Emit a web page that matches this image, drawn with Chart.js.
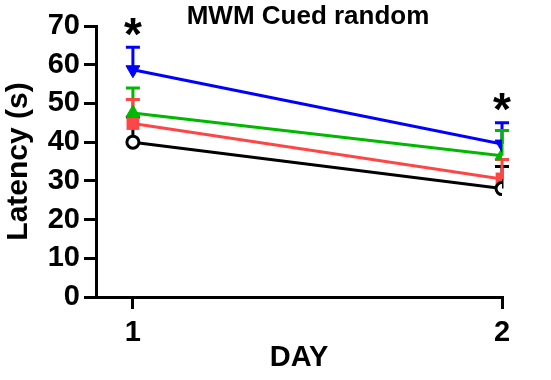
<!DOCTYPE html>
<html>
<head>
<meta charset="utf-8">
<script src="https://cdn.jsdelivr.net/npm/chart.js@4"></script>
<style>
  html, body { margin: 0; padding: 0; background: #fff; }
  canvas { display: block; }
</style>
</head>
<body>
<canvas id="chart" width="551" height="380"></canvas>
<script>
// values
const days = [1, 2];
const yTicks = [0, 10, 20, 30, 40, 50, 60, 70];
const blueMean = [58.7, 39.5];
const blueErr = [64.5, 45.0];
const greenMean = [47.5, 36.5];
const greenErr = [54.0, 43.0];
const redMean = [44.8, 30.5];
const redErr = [51.0, 35.5];
const blackMean = [40.0, 28.0];
const blackErr = [46.5, 33.7];
const starDays = [1, 2];
const starValues = [69.6, 50.0];

const FONT = '"Liberation Sans", Arial, sans-serif';

function pts(means) {
  return days.map((d, i) => ({ x: d, y: means[i] }));
}

const errorBars = {
  id: 'errorBars',
  beforeDatasetsDraw(chart) {
    const ctx = chart.ctx;
    const xs = chart.scales.x;
    const ys = chart.scales.y;
    chart.data.datasets.forEach((ds) => {
      ctx.save();
      ctx.strokeStyle = ds.borderColor;
      ctx.lineWidth = 3;
      ds.errTop.forEach((top, i) => {
        const x = xs.getPixelForValue(days[i]);
        const y0 = ys.getPixelForValue(ds.data[i].y);
        const y1 = ys.getPixelForValue(top);
        ctx.beginPath();
        ctx.moveTo(x, y0);
        ctx.lineTo(x, y1);
        ctx.moveTo(x - 7, y1);
        ctx.lineTo(x + 7, y1);
        ctx.stroke();
      });
      ctx.restore();
    });
  },
  afterDraw(chart) {
    const ctx = chart.ctx;
    const xs = chart.scales.x;
    const ys = chart.scales.y;
    ctx.save();
    ctx.fillStyle = '#000';
    ctx.textAlign = 'center';
    ctx.textBaseline = 'middle';
    ctx.font = 'bold 26px ' + FONT;
    ctx.fillText('MWM Cued random', 308, 17);
    // significance stars
    ctx.font = 'bold 46px ' + FONT;
    ctx.textBaseline = 'alphabetic';
    starDays.forEach((d, i) => {
      ctx.fillText('*', xs.getPixelForValue(d), ys.getPixelForValue(starValues[i]) + 22);
    });
    ctx.restore();
  }
};

new Chart(document.getElementById('chart').getContext('2d'), {
  type: 'line',
  data: {
    datasets: [
      {
        label: 'Black', data: pts(blackMean), errTop: blackErr, order: 0,
        borderColor: '#000000', backgroundColor: '#ffffff',
        pointStyle: 'circle', pointRadius: 6, pointBorderWidth: 3
      },
      {
        label: 'Blue', data: pts(blueMean), errTop: blueErr, order: 1,
        borderColor: '#0000ff', backgroundColor: '#0000ff',
        pointStyle: 'triangle', pointRotation: 180, pointRadius: 8, pointBorderWidth: 1
      },
      {
        label: 'Green', data: pts(greenMean), errTop: greenErr, order: 2,
        borderColor: '#00b800', backgroundColor: '#00b800',
        pointStyle: 'triangle', pointRadius: 8, pointBorderWidth: 1
      },
      {
        label: 'Red', data: pts(redMean), errTop: redErr, order: 3,
        borderColor: '#ff4646', backgroundColor: '#ff4646',
        pointStyle: 'rect', pointRadius: 9, pointBorderWidth: 0
      }
    ]
  },
  options: {
    responsive: false,
    animation: false,
    layout: { padding: { left: 0, top: 26, right: 49, bottom: 0 } },
    elements: { line: { borderWidth: 3, tension: 0, fill: false } },
    plugins: {
      legend: { display: false },
      tooltip: { enabled: false }
    },
    scales: {
      x: {
        type: 'linear',
        min: 0.9,
        max: 2,
        afterBuildTicks: (s) => { s.ticks = days.map((v) => ({ value: v })); },
        afterFit: (s) => { s.height = 83; },
        border: { display: true, color: '#000', width: 3 },
        grid: { drawOnChartArea: false, drawTicks: true, tickLength: 12, color: '#000', lineWidth: 3 },
        ticks: { color: '#000', padding: 7, font: { family: FONT, size: 29, weight: 'bold' } },
        title: {
          display: true, text: 'DAY', color: '#000',
          padding: { top: 0, bottom: 5 },
          font: { family: FONT, size: 29, weight: 'bold' }
        }
      },
      y: {
        min: 0,
        max: 70,
        afterBuildTicks: (s) => { s.ticks = yTicks.map((v) => ({ value: v })); },
        afterFit: (s) => { s.width = 96; },
        border: { display: true, color: '#000', width: 3 },
        grid: { drawOnChartArea: false, drawTicks: true, tickLength: 12, color: '#000', lineWidth: 3 },
        ticks: { color: '#000', padding: 4, font: { family: FONT, size: 29, weight: 'bold' } },
        title: {
          display: true, text: 'Latency (s)', color: '#000',
          padding: { top: 1, bottom: 0 },
          font: { family: FONT, size: 30, weight: 'bold' }
        }
      }
    }
  },
  plugins: [errorBars]
});
</script>
</body>
</html>
